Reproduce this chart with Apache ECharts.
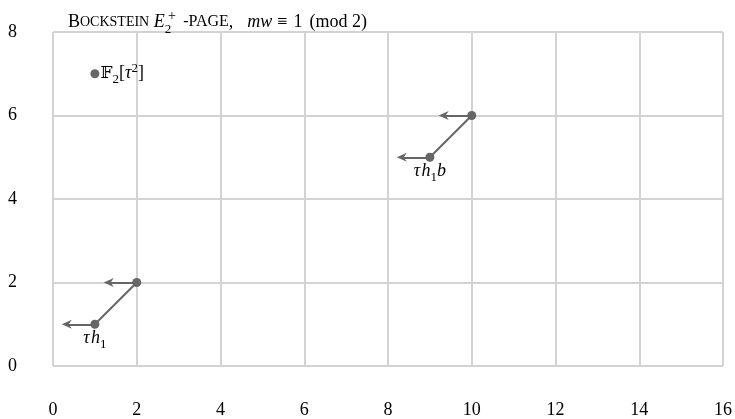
<!DOCTYPE html>
<html>
<head>
<meta charset="utf-8">
<script src="https://cdn.jsdelivr.net/npm/echarts@6/dist/echarts.min.js"></script>
<style>
  html, body { margin: 0; padding: 0; background: #fff; }
  #chart { width: 735px; height: 419px; }
</style>
</head>
<body>
<div id="chart"></div>
<script>
// classes on the page: [stem, filtration]
const dots = [[1, 7], [1, 1], [2, 2], [9, 5], [10, 6]];
const dotNames = ['{bb|𝔽}{sub|2}{n|[}{i|τ}{sup|2}{n|]}', '{i|τ\u200Ah}{sub|1}', '', '{i|τ\u200Ah}{sub|1}{i|b}', ''];
// differentials joining two classes
const diffs = [
    [[1, 1], [2, 2]],
    [[9, 5], [10, 6]]
];
// leftward arrows (start, arrow tip)
const arrows = [
    [[1, 1], [0.33, 1]],
    [[2, 2], [1.33, 2]],
    [[9, 5], [8.33, 5]],
    [[10, 6], [9.33, 6]]
];

const serif = 'Liberation Serif, Times New Roman, serif';
const ink = '#666666';
const arrowHead = 'path://M5,0 L10,10 L5,7 L0,10 Z';

const richText = {
    n: { fontFamily: serif, fontSize: 18, color: '#000' },
    i: { fontFamily: serif, fontStyle: 'italic', fontSize: 18, color: '#000' },
    bb: { fontFamily: 'DejaVu Serif, DejaVu Sans, serif', fontSize: 17, color: '#000' },
    sub: { fontFamily: serif, fontSize: 13, color: '#000', padding: [11, 0, 0, 0] },
    sup: { fontFamily: serif, fontSize: 13, color: '#000', padding: [0, 0, 10, 0] }
};

const chart = echarts.init(document.getElementById('chart'));
chart.setOption({
    animation: false,
    title: {
        text: '{b|B}{sc|OCKSTEIN}{n| }{e|E}{sub|2}{sc2|-PAGE}{n|,}{i|mw}{m|≡}{n|1}{p|(mod 2)}',
        left: 63,
        top: 3,
        textStyle: {
            fontFamily: serif,
            fontSize: 18,
            fontWeight: 'normal',
            color: '#000',
            rich: {
                b: { fontFamily: serif, fontSize: 18, color: '#000' },
                n: { fontFamily: serif, fontSize: 18, color: '#000' },
                sc: { fontFamily: serif, fontSize: 14, color: '#000' },
                sc2: { fontFamily: serif, fontSize: 16, color: '#000', padding: [0, 0, 0, 3] },
                e: { fontFamily: serif, fontStyle: 'italic', fontSize: 18, color: '#000' },
                i: { fontFamily: serif, fontStyle: 'italic', fontSize: 18, color: '#000', padding: [0, 0, 0, 14] },
                m: { fontFamily: serif, fontSize: 18, color: '#000', padding: [0, 6, 0, 5] },
                p: { fontFamily: serif, fontSize: 18, color: '#000', padding: [0, 0, 0, 7] },
                sub: { fontFamily: serif, fontSize: 13, color: '#000', padding: [15, 9, 0, 0] }
            }
        }
    },
    graphic: [{
        type: 'text',
        left: 168,
        top: 9,
        style: { text: '+', fontFamily: serif, fontSize: 14, fill: '#000' }
    }],
    grid: { left: 53, right: 10, top: 32, bottom: 53 },
    xAxis: {
        type: 'value',
        min: 0,
        max: 16,
        interval: 2,
        axisLine: { show: false },
        axisTick: { show: false },
        axisLabel: { margin: 35, fontFamily: serif, fontSize: 18, color: '#000' },
        splitLine: { show: true, lineStyle: { color: '#d3d3d3', width: 2 } }
    },
    yAxis: {
        type: 'value',
        min: 0,
        max: 8,
        interval: 2,
        axisLine: { show: false },
        axisTick: { show: false },
        axisLabel: { margin: 36, fontFamily: serif, fontSize: 18, color: '#000' },
        splitLine: { show: true, lineStyle: { color: '#d3d3d3', width: 2 } }
    },
    series: [
        ...diffs.map(d => ({
            type: 'line',
            data: d,
            symbol: 'none',
            silent: true,
            lineStyle: { color: ink, width: 2 },
            z: 3
        })),
        {
            type: 'scatter',
            data: dots.map((p, k) => ({
                value: p,
                label: {
                    show: dotNames[k] !== '',
                    formatter: dotNames[k],
                    position: k === 0 ? 'right' : 'bottom',
                    distance: k === 0 ? 1 : -2,
                    rich: richText
                }
            })),
            symbolSize: 9,
            itemStyle: { color: ink, opacity: 1 },
            z: 5,
            markLine: {
                silent: true,
                symbolSize: [9, 10],
                label: { show: false },
                lineStyle: { color: ink, width: 2, type: 'solid' },
                data: arrows.map(a => [
                    { coord: a[0], symbol: 'none' },
                    { coord: a[1], symbol: arrowHead }
                ])
            }
        }
    ]
});
</script>
</body>
</html>
